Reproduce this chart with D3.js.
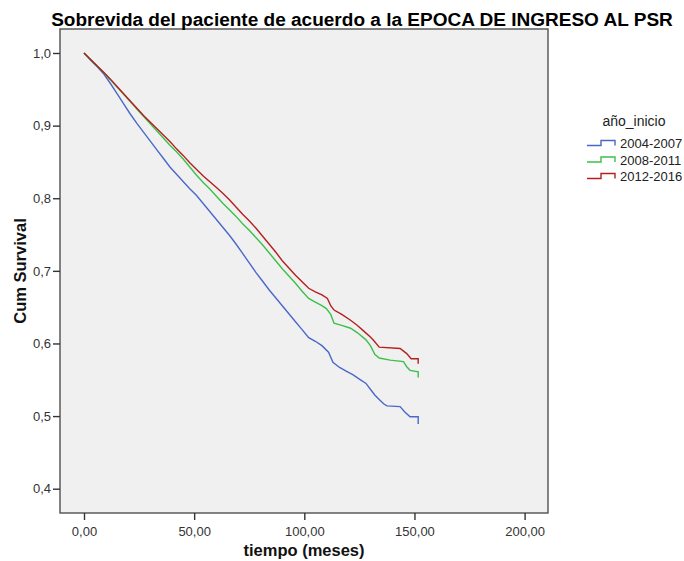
<!DOCTYPE html>
<html>
<head>
<meta charset="utf-8">
<script src="https://cdn.jsdelivr.net/npm/d3@7"></script>
<style>
  html, body { margin: 0; padding: 0; background: #ffffff; }
  svg { display: block; font-family: "Liberation Sans", Arial, sans-serif; }
</style>
</head>
<body>
<svg id="chart" width="684" height="561"></svg>
<script>
// ---- Data ----
const seriesNames = ["2004-2007", "2008-2011", "2012-2016"];
const seriesColors = ["#4a68c9", "#3cc04a", "#b3201f"];

const timeBlue = [0,3,6,9,12,15,18,21,24,27,30,33,36,39,42,45,48,51,54,57,60,63,66,69,72,75,78,81,84,87,90,93,96,99,102,105,108,111,113,116,119,122,125,128,130,132,134,136,137.5,143.5,145.5,148,151.7,151.7];
const survBlue = [1.000,0.990,0.981,0.971,0.958,0.944,0.930,0.916,0.903,0.891,0.879,0.867,0.855,0.843,0.833,0.823,0.813,0.804,0.793,0.782,0.771,0.760,0.749,0.737,0.724,0.711,0.698,0.686,0.674,0.663,0.652,0.641,0.630,0.619,0.608,0.603,0.597,0.588,0.574,0.567,0.562,0.557,0.551,0.545,0.537,0.529,0.523,0.517,0.514,0.513,0.506,0.499,0.499,0.489];

const timeGreen = [0,3,6,9,12,15,18,21,24,27,30,33,36,39,42,45,48,51,54,57,60,63,66,69,72,75,78,81,84,87,90,93,96,99,102,105,108,110,112,113.5,117,121,124,128,130,132,134,139,145,146.5,148,151.7,151.7];
const survGreen = [1.000,0.991,0.982,0.973,0.963,0.953,0.943,0.933,0.923,0.913,0.903,0.893,0.883,0.873,0.864,0.854,0.843,0.832,0.822,0.813,0.803,0.793,0.784,0.775,0.765,0.756,0.746,0.736,0.725,0.714,0.703,0.693,0.683,0.672,0.662,0.657,0.652,0.648,0.640,0.628,0.625,0.621,0.615,0.605,0.597,0.585,0.580,0.577,0.575,0.568,0.563,0.561,0.553];

const timeRed = [0,3,6,9,12,15,18,21,24,27,30,33,36,39,42,45,48,51,54,57,60,63,66,69,72,75,78,81,84,87,90,93,96,99,102,105,108,110.5,112,113.5,117,121,124,127,130,131.5,134,143.5,146.5,148.5,151.7,151.7];
const survRed = [1.000,0.991,0.982,0.973,0.964,0.954,0.944,0.934,0.924,0.914,0.905,0.896,0.887,0.878,0.868,0.859,0.849,0.840,0.831,0.823,0.815,0.807,0.798,0.788,0.778,0.769,0.759,0.748,0.737,0.726,0.714,0.704,0.694,0.685,0.676,0.671,0.667,0.662,0.652,0.646,0.640,0.632,0.625,0.617,0.609,0.604,0.595,0.593,0.586,0.579,0.579,0.572];

const xTicks = [0, 50, 100, 150, 200];
const yTicks = [0.4, 0.5, 0.6, 0.7, 0.8, 0.9, 1.0];

const titleText = "Sobrevida del paciente de acuerdo a la EPOCA DE INGRESO AL PSR";
const xLabel = "tiempo (meses)";
const yLabel = "Cum Survival";
const legendTitle = "año_inicio";

// ---- Layout ----
const svg = d3.select("#chart");
const frame = { left: 60, right: 548, top: 29, bottom: 513 };

const x = d3.scaleLinear().domain([0, 200]).range([84, 524.6]);
const y = d3.scaleLinear().domain([0.4, 1.0]).range([488.7, 53]);

// plot background
svg.append("rect")
  .attr("x", frame.left).attr("y", frame.top)
  .attr("width", frame.right - frame.left)
  .attr("height", frame.bottom - frame.top)
  .attr("fill", "#f0f0f0");

// curves
const series = [
  { t: timeBlue, s: survBlue },
  { t: timeGreen, s: survGreen },
  { t: timeRed, s: survRed }
];
const line = d3.line().x(d => x(d[0])).y(d => y(d[1])).curve(d3.curveLinear);
series.forEach((ser, i) => {
  const pts = ser.t.map((t, k) => [t, ser.s[k]]);
  svg.append("path")
    .attr("d", line(pts))
    .attr("fill", "none")
    .attr("stroke", seriesColors[i])
    .attr("stroke-width", 1.4)
    .attr("stroke-linejoin", "miter");
});

// frame border
svg.append("rect")
  .attr("x", frame.left).attr("y", frame.top)
  .attr("width", frame.right - frame.left)
  .attr("height", frame.bottom - frame.top)
  .attr("fill", "none")
  .attr("stroke", "#505050")
  .attr("stroke-width", 1.4);

// axes
const yAxis = d3.axisLeft(y)
  .tickValues(yTicks)
  .tickSize(7)
  .tickPadding(2)
  .tickFormat(d => d.toFixed(1).replace(".", ","));
const gy = svg.append("g").attr("transform", `translate(${frame.left},0)`).call(yAxis);
gy.select(".domain").remove();
gy.selectAll("line").attr("stroke", "#333").attr("stroke-width", 1.4);
gy.selectAll("text").attr("font-size", 13).attr("fill", "#333")
  .attr("font-family", "'Liberation Sans', Arial, sans-serif");

const xAxis = d3.axisBottom(x)
  .tickValues(xTicks)
  .tickSize(7)
  .tickPadding(7)
  .tickFormat(d => d.toFixed(2).replace(".", ","));
const gx = svg.append("g").attr("transform", `translate(0,${frame.bottom})`).call(xAxis);
gx.select(".domain").remove();
gx.selectAll("line").attr("stroke", "#333").attr("stroke-width", 1.4);
gx.selectAll("text").attr("font-size", 13).attr("fill", "#333")
  .attr("font-family", "'Liberation Sans', Arial, sans-serif");

// title
const title = svg.append("text")
  .attr("x", 362).attr("y", 26)
  .attr("text-anchor", "middle")
  .attr("font-size", 18)
  .attr("font-weight", "bold")
  .attr("fill", "#000")
  .text(titleText);
const tw = title.node().getComputedTextLength();
title.attr("font-size", 18 * 622 / tw);

// axis labels
svg.append("text")
  .attr("x", (frame.left + frame.right) / 2).attr("y", 556)
  .attr("text-anchor", "middle")
  .attr("font-size", 16.5).attr("font-weight", "bold").attr("fill", "#111")
  .text(xLabel);

svg.append("text")
  .attr("transform", `translate(26,${(frame.top + frame.bottom) / 2}) rotate(-90)`)
  .attr("text-anchor", "middle")
  .attr("font-size", 16.5).attr("font-weight", "bold").attr("fill", "#111")
  .text(yLabel);

// legend
const legend = svg.append("g");
legend.append("text")
  .attr("x", 634).attr("y", 126)
  .attr("text-anchor", "middle")
  .attr("font-size", 14).attr("fill", "#222")
  .text(legendTitle);
seriesNames.forEach((name, i) => {
  const cy = 143.5 + i * 16.5;
  legend.append("path")
    .attr("d", `M587,${cy + 2} H601 V${cy - 3} H615 V${cy + 2}`)
    .attr("fill", "none")
    .attr("stroke", seriesColors[i])
    .attr("stroke-width", 1.4);
  legend.append("text")
    .attr("x", 620).attr("y", cy + 4.5)
    .attr("font-size", 13).attr("fill", "#222")
    .text(name);
});
</script>
</body>
</html>
